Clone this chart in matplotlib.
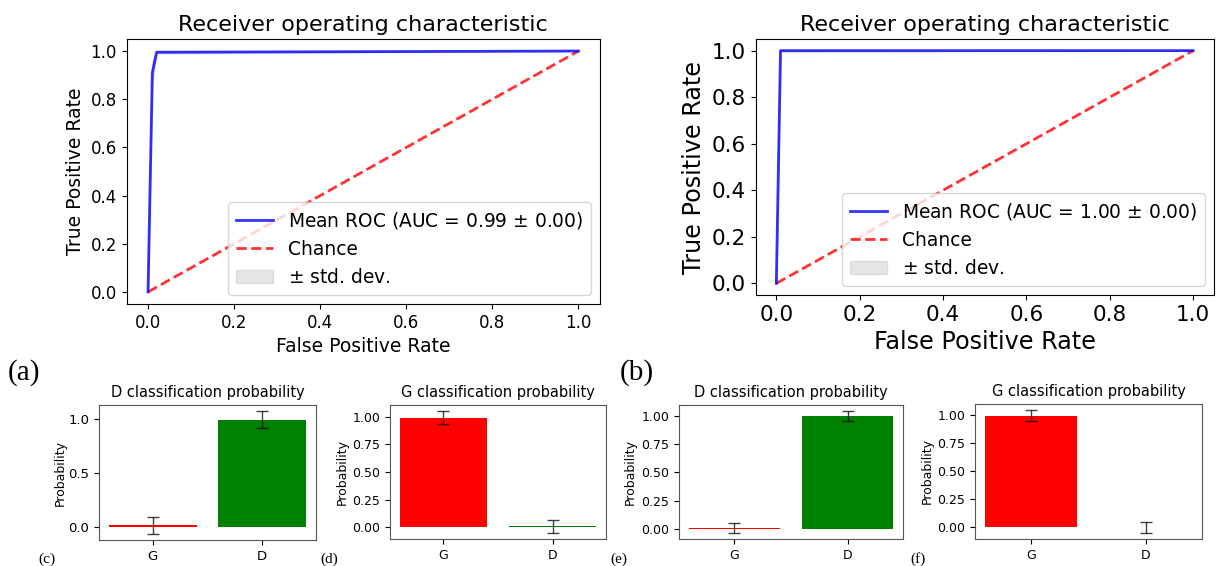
import matplotlib

matplotlib.use("Agg")

import matplotlib.pyplot as plt

# ROC data (mean curve and std band)
fpr_a = [0.0, 0.01, 0.02, 1.0]
tpr_a = [0.0, 0.91, 0.995, 1.0]
tpr_a_upper = [0.0, 0.96, 1.0, 1.0]
tpr_a_lower = [0.0, 0.86, 0.99, 1.0]
auc_a = (0.99, 0.00)

fpr_b = [0.0, 0.01, 1.0]
tpr_b = [0.0, 1.0, 1.0]
tpr_b_upper = [0.0, 1.0, 1.0]
tpr_b_lower = [0.0, 0.995, 1.0]
auc_b = (1.00, 0.00)

# classification probabilities
classes = ["G", "D"]
prob_c = [0.012, 0.99]
err_c = [0.08, 0.08]
prob_d = [0.99, 0.008]
err_d = [0.06, 0.06]
prob_e = [0.01, 1.0]
err_e = [0.045, 0.043]
prob_f = [0.995, 0.0]
err_f = [0.048, 0.05]

W, H = 1217, 566
fig = plt.figure(figsize=(W / 100, H / 100), dpi=100)
fig.patch.set_facecolor("white")


def px_axes(left, top, right, bottom):
    return fig.add_axes([left / W, 1 - bottom / H, (right - left) / W, (bottom - top) / H])


def roc_panel(ax, fpr, tpr, upper, lower, auc, tick_fs, label_fs):
    ax.plot([0, 1], [0, 1], linestyle="--", lw=2, color="r", alpha=0.8, label="Chance",
            zorder=2)
    ax.plot(fpr, tpr, color="b", lw=2, alpha=0.8,
            label=r"Mean ROC (AUC = %0.2f $\pm$ %0.2f)" % auc, zorder=3)
    ax.fill_between(fpr, lower, upper, color="grey", alpha=0.2, label=r"$\pm$ std. dev.")
    ax.set_xlim(-0.05, 1.05)
    ax.set_ylim(-0.05, 1.05)
    ax.set_xticks([0, 0.2, 0.4, 0.6, 0.8, 1.0])
    ax.set_yticks([0, 0.2, 0.4, 0.6, 0.8, 1.0])
    ax.tick_params(labelsize=tick_fs)
    ax.set_xlabel("False Positive Rate", fontsize=label_fs)
    ax.set_ylabel("True Positive Rate", fontsize=label_fs)
    ax.set_title("Receiver operating characteristic", fontsize=16)
    handles, labels = ax.get_legend_handles_labels()
    order = [1, 0, 2]
    ax.legend([handles[i] for i in order], [labels[i] for i in order],
              loc="lower right", fontsize=13.4)


ax_a = px_axes(126.5, 39, 600, 304)
roc_panel(ax_a, fpr_a, tpr_a, tpr_a_upper, tpr_a_lower, auc_a, 12, 13.5)

ax_b = px_axes(755.5, 39, 1214, 295)
roc_panel(ax_b, fpr_b, tpr_b, tpr_b_upper, tpr_b_lower, auc_b, 15.5, 17.2)


def bar_panel(ax, probs, errs, title, ticks, tick_fs, label_x):
    ax.bar(classes, probs, yerr=errs, color=["red", "green"], width=0.8, capsize=4.5,
           error_kw=dict(ecolor="black", elinewidth=1, alpha=0.75))
    ax.set_title(title, fontsize=10.5)
    ax.set_ylabel("Probability", fontsize=9)
    ax.yaxis.set_label_coords(label_x, 0.5)
    ax.set_yticks(ticks)
    ax.tick_params(labelsize=tick_fs)
    for sp in ax.spines.values():
        sp.set_color("#555555")


ticks4 = [0.0, 0.25, 0.5, 0.75, 1.0]
ax_c = px_axes(99, 405, 316, 540)
bar_panel(ax_c, prob_c, err_c, "D classification probability", [0.0, 0.5, 1.0], 9.5, -0.15)
ax_d = px_axes(390, 405, 606, 539)
bar_panel(ax_d, prob_d, err_d, "G classification probability", ticks4, 9, -0.19)
ax_e = px_axes(679, 405, 903, 539)
bar_panel(ax_e, prob_e, err_e, "D classification probability", ticks4, 9, -0.19)
ax_f = px_axes(975, 404, 1202, 539)
bar_panel(ax_f, prob_f, err_f, "G classification probability", ticks4, 9, -0.18)

# panel letters
serif = "Liberation Serif"
fig.text(8 / W, 1 - 380 / H, "(a)", fontsize=21, family=serif)
fig.text(620 / W, 1 - 380 / H, "(b)", fontsize=21, family=serif)
fig.text(38 / W, 1 - 563 / H, "(c)", fontsize=11, family=serif)
fig.text(320 / W, 1 - 563 / H, "(d)", fontsize=11, family=serif)
fig.text(610 / W, 1 - 563 / H, "(e)", fontsize=11, family=serif)
fig.text(910 / W, 1 - 563 / H, "(f)", fontsize=11, family=serif)

fig.savefig("out.png", dpi=100)
